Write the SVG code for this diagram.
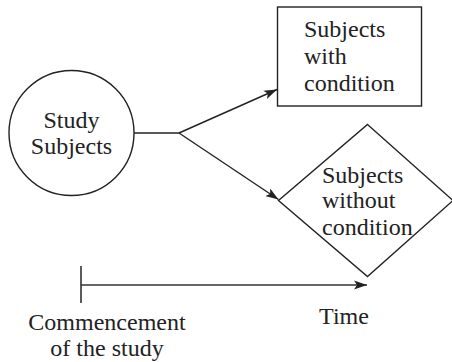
<svg xmlns="http://www.w3.org/2000/svg" width="452" height="362" viewBox="0 0 452 362">
<style>
text{font-family:"Liberation Serif","Times New Roman",serif;font-size:24px;fill:#222}
.s{fill:none;stroke:#222;stroke-width:1.4}
.c{fill:none;stroke:#333;stroke-width:1.6}
</style>
<defs>
<marker id="ah" markerWidth="14" markerHeight="10" refX="13" refY="5" orient="auto" markerUnits="userSpaceOnUse">
<path d="M0,0.5 L13,5 L0,9.5 L3,5 Z" fill="#222"/>
</marker>
</defs>
<rect width="452" height="362" fill="#fff"/>
<g id="study">
<circle class="s" cx="71.5" cy="133" r="62.5"/>
<text x="71.5" y="127.5" text-anchor="middle">Study</text>
<text x="71.5" y="153.5" text-anchor="middle">Subjects</text>
</g>
<g id="with">
<rect class="s" x="277.5" y="7" width="144" height="99"/>
<text x="304" y="37">Subjects</text>
<text x="304" y="64">with</text>
<text x="304" y="91">condition</text>
</g>
<g id="without">
<polygon class="s" points="367.5,124.5 453,200.5 367.5,276.5 278.5,200.5"/>
<text x="322" y="182.5">Subjects</text>
<text x="322" y="208">without</text>
<text x="322" y="235">condition</text>
</g>
<g id="connectors">
<polyline class="s" points="134,133 179,133"/>
<line class="s" x1="179" y1="133" x2="277" y2="89.5" marker-end="url(#ah)"/>
<line class="s" x1="179" y1="133" x2="278.5" y2="199.5" marker-end="url(#ah)"/>
<line class="c" x1="81" y1="266" x2="81" y2="303"/>
<line class="c" x1="81" y1="285" x2="367" y2="285" marker-end="url(#ah)"/>
</g>
<g id="labels">
<text x="107" y="329.5" text-anchor="middle">Commencement</text>
<text x="107" y="355.5" text-anchor="middle">of the study</text>
<text x="344" y="323.5" text-anchor="middle">Time</text>
</g>
</svg>
